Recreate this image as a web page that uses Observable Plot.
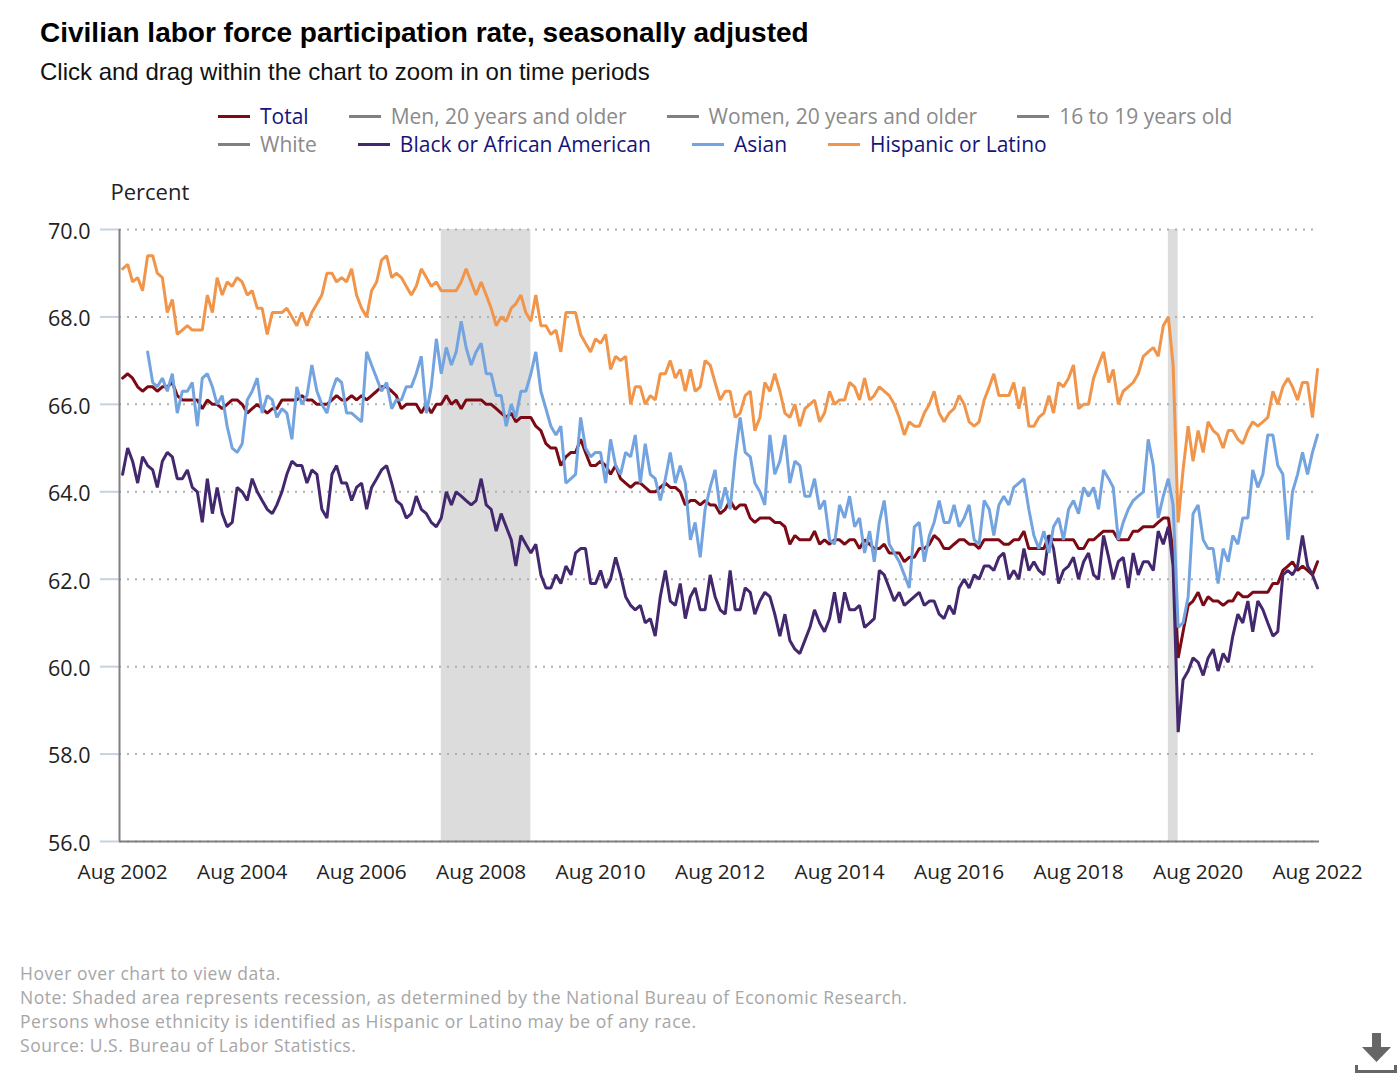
<!DOCTYPE html>
<html>
<head>
<meta charset="utf-8">
<script src="https://cdn.jsdelivr.net/npm/d3@7"></script>
<script src="https://cdn.jsdelivr.net/npm/@observablehq/plot@0.6"></script>
<style>
  body { margin: 0; background: #fff; width: 1400px; height: 1080px; position: relative; overflow: hidden; }
  .abs { position: absolute; white-space: nowrap; }
  #title { left: 40px; top: 17px; font: bold 28px "Liberation Sans", sans-serif; color: #000; }
  #subtitle { left: 40px; top: 58px; font: 24px "Liberation Sans", sans-serif; color: #111; }
  .legend-row { left: 218px; display: flex; gap: 40px; font: 21px "Open Sans", sans-serif; line-height: 28px; }
  .legend-item { display: flex; align-items: center; gap: 10px; }
  .legend-item i { display: block; width: 32px; height: 3px; }
  #chart { left: 0; top: 160px; }
  #notes { left: 20px; top: 961px; font: 17.5px "Open Sans", sans-serif; letter-spacing: 0.54px; line-height: 24px; color: #a6a6a6; }
  #download { left: 1354px; top: 1032px; }
</style>
</head>
<body>
<div class="abs" id="title">Civilian labor force participation rate, seasonally adjusted</div>
<div class="abs" id="subtitle">Click and drag within the chart to zoom in on time periods</div>
<div class="abs" id="chart"></div>
<div class="abs legend-row" id="legend1" style="top:102px"></div>
<div class="abs legend-row" id="legend2" style="top:130px;gap:41px"></div>
<div class="abs" id="notes"></div>
<svg class="abs" id="download" width="44" height="44" viewBox="0 0 44 44">
  <path d="M18 1h9v14h10L22.500 30 8 15h10z" fill="#666"></path>
  <path d="M1 33v8h42v-8h-3v5H4v-5z" fill="#666"></path>
</svg>
<script>
// monthly, Aug 2002 to Aug 2022 (ten values per line)
const total = [
  66.6,66.7,66.6,66.4,66.3,66.4,66.4,66.3,66.4,66.4,
  66.5,66.2,66.1,66.1,66.1,66.1,65.9,66.1,66.0,66.0,
  65.9,66.0,66.1,66.1,66.0,65.8,65.9,66.0,65.9,65.8,
  65.9,65.9,66.1,66.1,66.1,66.1,66.2,66.1,66.1,66.0,
  66.0,66.0,66.1,66.2,66.1,66.1,66.2,66.1,66.2,66.1,
  66.2,66.3,66.4,66.4,66.3,66.2,65.9,66.0,66.0,66.0,
  65.8,66.0,65.8,66.0,66.0,66.2,66.0,66.1,65.9,66.1,
  66.1,66.1,66.1,66.0,66.0,65.9,65.8,65.7,65.8,65.6,
  65.7,65.7,65.7,65.5,65.4,65.1,65.0,65.0,64.6,64.8,
  64.9,64.9,65.2,64.9,64.6,64.6,64.7,64.6,64.4,64.6,
  64.3,64.2,64.1,64.2,64.2,64.1,64.0,64.0,64.1,64.2,
  64.1,64.1,64.0,63.7,63.8,63.8,63.7,63.8,63.7,63.7,
  63.5,63.6,63.8,63.6,63.7,63.7,63.4,63.3,63.4,63.4,
  63.4,63.3,63.3,63.2,62.8,63.0,62.9,62.9,62.9,63.1,
  62.8,62.9,62.8,62.9,62.9,62.8,62.9,62.9,62.7,62.9,
  62.8,62.7,62.7,62.8,62.6,62.6,62.6,62.4,62.5,62.5,
  62.7,62.7,62.8,63.0,62.9,62.7,62.7,62.8,62.9,62.9,
  62.8,62.8,62.7,62.9,62.9,62.9,62.9,62.8,62.8,62.9,
  62.9,63.1,62.7,62.7,62.7,62.7,63.0,62.9,62.9,62.9,
  62.9,62.9,62.7,62.7,62.9,62.9,63.0,63.1,63.1,63.1,
  62.9,62.9,62.9,63.1,63.1,63.2,63.2,63.2,63.3,63.4,
  63.4,62.6,60.2,60.8,61.4,61.5,61.7,61.4,61.6,61.5,
  61.5,61.4,61.5,61.5,61.7,61.6,61.6,61.7,61.7,61.7,
  61.7,61.9,61.9,62.2,62.3,62.4,62.2,62.3,62.2,62.1,
  62.4
];
const black = [
  64.4,65.0,64.7,64.2,64.8,64.6,64.5,64.1,64.7,64.9,
  64.8,64.3,64.3,64.5,64.1,64.0,63.3,64.3,63.5,64.1,
  63.5,63.2,63.3,64.1,64.0,63.8,64.3,64.0,63.8,63.6,
  63.5,63.7,64.0,64.4,64.7,64.6,64.6,64.2,64.5,64.4,
  63.6,63.4,64.4,64.6,64.2,64.2,63.8,64.1,64.2,63.6,
  64.1,64.3,64.5,64.6,64.2,63.8,63.7,63.4,63.5,63.9,
  63.6,63.5,63.3,63.2,63.4,64.0,63.7,64.0,63.9,63.8,
  63.7,63.8,64.3,63.7,63.6,63.1,63.5,63.2,62.9,62.3,
  63.0,62.8,62.6,62.8,62.1,61.8,61.8,62.1,61.9,62.3,
  62.1,62.6,62.7,62.7,61.9,61.9,62.2,61.8,62.0,62.5,
  62.1,61.6,61.4,61.3,61.4,61.0,61.1,60.7,61.6,62.2,
  61.5,61.4,61.9,61.1,61.6,61.8,61.3,61.3,62.1,61.6,
  61.3,61.2,62.2,61.3,61.3,61.8,61.7,61.2,61.5,61.7,
  61.6,61.2,60.7,61.2,60.6,60.4,60.3,60.6,60.9,61.3,
  61.0,60.8,61.1,61.7,61.0,61.7,61.3,61.3,61.4,60.9,
  61.0,61.1,62.2,62.1,61.8,61.5,61.7,61.4,61.5,61.6,
  61.7,61.4,61.5,61.5,61.2,61.1,61.4,61.2,61.8,62.0,
  61.8,62.1,62.0,62.3,62.3,62.2,62.5,62.6,62.0,62.2,
  62.0,62.7,62.2,62.4,62.2,62.1,63.0,62.7,61.9,62.2,
  62.3,62.5,62.0,62.4,62.6,62.1,62.0,63.0,62.5,62.0,
  62.4,62.5,61.8,62.6,62.1,62.4,62.4,62.2,63.1,62.8,
  63.2,62.3,58.5,59.7,59.9,60.2,60.1,59.8,60.2,60.4,
  59.9,60.3,60.1,60.7,61.2,61.0,61.5,60.8,61.5,61.3,
  61.0,60.7,60.8,62.1,62.2,62.1,62.3,63.0,62.3,62.1,
  61.8
];
const asian = [
  null,null,null,null,null,67.2,66.5,66.4,66.6,66.3,
  66.7,65.8,66.3,66.3,66.5,65.5,66.6,66.7,66.4,66.0,
  66.2,65.5,65.0,64.9,65.1,66.1,66.3,66.6,65.8,66.2,
  66.1,65.7,65.9,65.8,65.2,66.4,66.0,66.2,66.9,66.3,
  66.0,65.8,66.3,66.6,66.5,65.8,65.8,65.7,65.6,67.2,
  66.9,66.6,66.3,66.5,65.9,66.1,66.1,66.4,66.4,66.7,
  67.1,65.8,66.4,67.5,66.7,67.3,66.9,67.2,67.9,67.3,
  66.9,67.2,67.4,66.7,66.7,66.2,66.2,65.5,66.0,65.7,
  66.3,66.3,66.7,67.2,66.3,65.9,65.5,65.3,65.5,64.2,
  64.3,64.4,65.7,65.0,64.8,64.9,64.9,64.2,65.2,64.6,
  64.4,64.9,64.8,65.3,64.2,65.1,64.4,64.3,63.8,64.3,
  64.9,64.2,64.6,64.2,62.9,63.3,62.5,63.6,64.1,64.5,
  63.6,64.1,63.6,64.8,65.7,64.9,64.8,64.2,64.0,63.7,
  65.3,64.4,64.7,65.3,64.2,64.7,64.6,63.9,63.9,64.3,
  63.6,63.8,62.9,62.8,63.7,63.4,63.9,63.2,63.4,62.6,
  63.1,62.4,63.3,63.8,62.8,62.6,62.4,62.1,61.8,63.2,
  63.3,62.4,63.0,63.3,63.8,63.3,63.3,63.7,63.2,63.4,
  63.7,62.9,62.8,63.8,63.6,63.0,63.7,63.9,63.7,64.1,
  64.2,64.3,63.6,63.0,62.7,63.1,62.6,63.2,63.4,62.9,
  63.6,63.8,63.5,64.1,63.9,64.1,63.6,64.5,64.3,64.1,
  62.9,63.3,63.6,63.8,63.9,64.0,65.2,64.6,63.4,63.9,
  64.3,63.7,60.9,61.0,61.6,63.5,63.7,62.9,62.7,62.7,
  61.9,62.7,62.4,63.0,62.8,63.4,63.4,64.5,64.1,64.4,
  65.3,65.3,64.6,64.4,62.9,64.0,64.4,64.9,64.4,64.9,
  65.3
];
const hispanic = [
  69.1,69.2,68.8,68.9,68.6,69.4,69.4,69.0,68.9,68.1,
  68.4,67.6,67.7,67.8,67.7,67.7,67.7,68.5,68.1,68.9,
  68.5,68.8,68.7,68.9,68.8,68.5,68.6,68.2,68.2,67.6,
  68.1,68.1,68.1,68.2,68.0,67.8,68.1,67.8,68.1,68.3,
  68.5,69.0,69.0,68.8,68.9,68.8,69.1,68.5,68.2,68.0,
  68.6,68.8,69.3,69.4,68.9,69.0,68.9,68.7,68.5,68.7,
  69.1,68.9,68.7,68.8,68.6,68.6,68.6,68.6,68.8,69.1,
  68.8,68.5,68.8,68.5,68.2,67.8,68.0,67.9,68.2,68.3,
  68.5,68.1,67.9,68.5,67.8,67.8,67.6,67.7,67.2,68.1,
  68.1,68.1,67.6,67.4,67.2,67.5,67.4,67.6,66.8,67.1,
  67.0,67.1,66.0,66.4,66.4,66.0,66.2,66.1,66.7,66.7,
  67.0,66.6,66.8,66.3,66.8,66.3,66.4,67.0,66.9,66.5,
  66.1,66.3,66.3,65.7,65.8,66.2,66.3,65.4,65.7,66.5,
  66.3,66.7,66.3,65.8,65.7,66.0,65.5,65.9,66.0,66.1,
  65.6,65.8,66.3,66.0,66.1,66.1,66.5,66.4,66.1,66.6,
  66.1,66.2,66.4,66.3,66.2,66.0,65.7,65.3,65.6,65.5,
  65.5,65.8,66.0,66.3,65.8,65.6,65.8,65.9,66.2,66.0,
  65.6,65.5,65.6,66.1,66.4,66.7,66.2,66.2,66.2,66.5,
  65.9,66.4,65.5,65.5,65.7,65.8,66.2,65.8,66.5,66.4,
  66.6,66.9,65.9,66.0,66.0,66.6,66.9,67.2,66.5,66.8,
  66.0,66.3,66.4,66.5,66.7,67.1,67.2,67.3,67.1,67.8,
  68.0,66.9,63.3,64.5,65.5,64.7,65.4,64.9,65.6,65.4,
  65.3,65.0,65.4,65.4,65.2,65.1,65.4,65.6,65.5,65.6,
  65.7,66.3,66.0,66.4,66.6,66.4,66.1,66.5,66.5,65.7,
  66.8
];

const legendRow1 = [["Total", "#7b0a14", true], ["Men, 20 years and older", "#808080", false], ["Women, 20 years and older", "#808080", false], ["16 to 19 years old", "#808080", false]];
const legendRow2 = [["White", "#808080", false], ["Black or African American", "#43286e", true], ["Asian", "#74a4e0", true], ["Hispanic or Latino", "#f0954a", true]];
const notes = [
  "Hover over chart to view data.",
  "Note: Shaded area represents recession, as determined by the National Bureau of Economic Research.",
  "Persons whose ethnicity is identified as Hispanic or Latino may be of any race.",
  "Source: U.S. Bureau of Labor Statistics."
];
const recessions = [
  {start: new Date(Date.UTC(2007, 11, 1)), end: new Date(Date.UTC(2009, 5, 1))},
  {start: new Date(Date.UTC(2020, 1, 1)), end: new Date(Date.UTC(2020, 3, 1))}
];
const yTicks = [56, 58, 60, 62, 64, 66, 68, 70];
const xTicks = d3.range(2002, 2023, 2).map(y => new Date(Date.UTC(y, 7, 1)));

[total, black, asian, hispanic].forEach(s => {
  if (s.length !== 241) throw new Error("bad series length " + s.length);
});

// ---------- long table for the line mark ----------
const month0 = new Date(Date.UTC(2002, 7, 1));
const seriesList = [
  ["Total", total, "#7b0a14"],
  ["Black or African American", black, "#43286e"],
  ["Asian", asian, "#74a4e0"],
  ["Hispanic or Latino", hispanic, "#f0954a"]
];
const rows = seriesList.flatMap(([name, vals]) =>
  vals.map((v, i) => ({series: name, date: d3.utcMonth.offset(month0, i), value: v}))
);

// ---------- legend + notes ----------
function fillLegend(id, items) {
  const el = document.getElementById(id);
  items.forEach(([label, colour, active]) => {
    const item = document.createElement("div");
    item.className = "legend-item";
    item.innerHTML = `<i style="background:${colour}"></i><span style="color:${active ? "#14147a" : "#8a8a8a"}">${label}</span>`;
    el.appendChild(item);
  });
}
fillLegend("legend1", legendRow1);
fillLegend("legend2", legendRow2);
document.getElementById("notes").innerHTML = notes.join("<br>");

// ---------- chart ----------
const fmtTick = d3.utcFormat("%b %Y");
const chart = Plot.plot({
  width: 1400, height: 740,
  marginLeft: 119, marginRight: 81, marginTop: 69, marginBottom: 59,
  style: {fontFamily: "Open Sans", background: "transparent"},
  x: {type: "utc", domain: [new Date(Date.UTC(2002, 6, 13)), new Date(Date.UTC(2022, 7, 13))]},
  y: {domain: [56, 70]},
  color: {domain: seriesList.map(d => d[0]), range: seriesList.map(d => d[2])},
  marks: [
    Plot.rect(recessions, {x1: "start", x2: "end", y1: 56, y2: 70, fill: "#dcdcdc"}),
    Plot.gridY(yTicks, {stroke: "#b0b0b0", strokeOpacity: 1, strokeWidth: 2, strokeDasharray: "2 6"}),
    // tick marks and labels apart, the labels sit a little lower than their ticks
    Plot.axisY(yTicks, {label: null, tickSize: 19, tickFormat: () => "", stroke: "#c4d2e2", strokeWidth: 2}),
    Plot.axisY(yTicks, {
      label: null, tickSize: 0, tickPadding: 29, dy: 2.5, tickFormat: d => d.toFixed(1),
      fill: "#222", fontSize: 21.5
    }),
    Plot.axisX(xTicks, {
      label: null, tickSize: 0, tickPadding: 23, tickFormat: fmtTick,
      fill: "#222", fontSize: 20.8
    }),
    Plot.text(["Percent"], {frameAnchor: "top-left", dx: -9, dy: -45, fontSize: 22, fill: "#222", textAnchor: "start"}),
    Plot.line(rows, {x: "date", y: "value", z: "series", stroke: "series", strokeWidth: 3, strokeLinejoin: "miter", curve: "linear"}),
    Plot.ruleX([new Date(Date.UTC(2002, 6, 13))], {stroke: "#808080", strokeWidth: 2}),
    Plot.ruleY([56], {stroke: "#808080", strokeWidth: 2})
  ]
});
document.getElementById("chart").appendChild(chart);
</script>
</body>
</html>
